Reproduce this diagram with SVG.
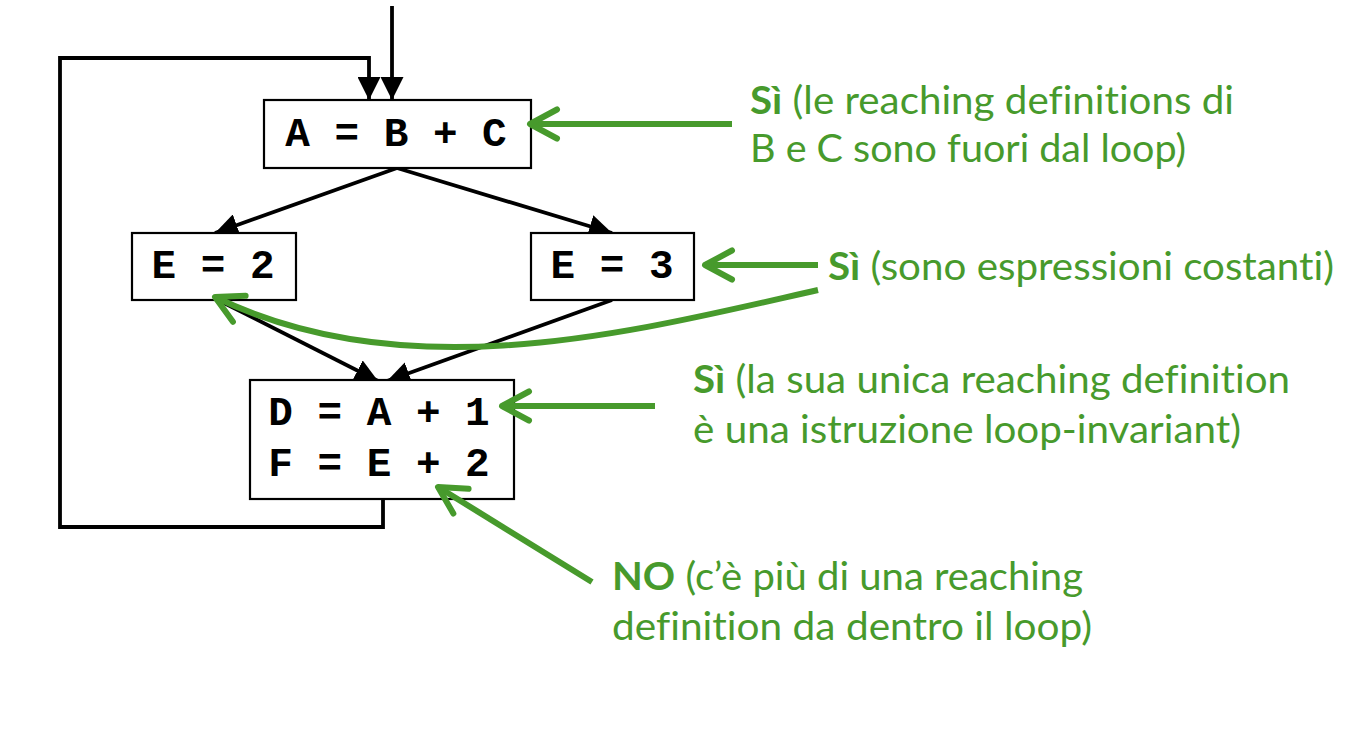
<svg xmlns="http://www.w3.org/2000/svg" width="1354" height="732" viewBox="0 0 1354 732">
<style>
.box{fill:#fff;stroke:#000;stroke-width:2.2}
.code{font-family:"Liberation Mono","Courier New",monospace;font-weight:bold;font-size:41px;fill:#000;text-anchor:middle}
.edge{fill:none;stroke:#000;stroke-width:3.8}
.gline{fill:none;stroke:#479a2c;stroke-width:6}
.note{font-family:Lato,"Open Sans",sans-serif;font-size:39px;fill:#479a2c;font-variant-ligatures:none}
.b{font-weight:bold}
</style>
<defs>
<marker id="ah" markerUnits="userSpaceOnUse" viewBox="0 0 23 23" refX="23" refY="11.5" markerWidth="23" markerHeight="23" orient="auto">
<path d="M0,0 L23,11.5 L0,23 Z" fill="#000"/>
</marker>
<marker id="gh" markerUnits="userSpaceOnUse" viewBox="-32 -20 36 40" refX="0" refY="0" markerWidth="36" markerHeight="40" orient="auto" overflow="visible">
<path d="M-27,-14.5 L0,0 L-27,14.5" fill="none" stroke="#479a2c" stroke-width="6" stroke-linecap="round" stroke-linejoin="round"/>
</marker>
</defs>
<g id="connectors">
<path class="edge" d="M392,6 L392,100" marker-end="url(#ah)"/>
<path class="edge" d="M383,499 L383,527 L60,527 L60,58 L369,58 L369,100" marker-end="url(#ah)"/>
<path class="edge" d="M397,168 L215,233" marker-end="url(#ah)"/>
<path class="edge" d="M397,168 L612,233" marker-end="url(#ah)"/>
<path class="edge" d="M218,300 L378,381" marker-end="url(#ah)"/>
<path class="edge" d="M612,300 L387,381" marker-end="url(#ah)"/>
</g>
<g id="nodeA">
<rect class="box" x="264" y="100" width="267" height="68"/>
<text class="code" x="396" y="146">A = B + C</text>
</g>
<g id="nodeE2">
<rect class="box" x="132" y="233" width="164" height="67"/>
<text class="code" x="213" y="278">E = 2</text>
</g>
<g id="nodeE3">
<rect class="box" x="531" y="233" width="163" height="67"/>
<text class="code" x="612" y="278">E = 3</text>
</g>
<g id="nodeD">
<rect class="box" x="250" y="380" width="264" height="119"/>
<text class="code" x="379" y="425">D = A + 1</text>
<text class="code" x="379" y="476">F = E + 2</text>
</g>
<g id="annotations">
<path class="gline" d="M732,124 L530,124" marker-end="url(#gh)"/>
<path class="gline" d="M818,265 L705,265" marker-end="url(#gh)"/>
<path class="gline" d="M818,290 C640,330 410,392 215,297" marker-end="url(#gh)"/>
<path class="gline" d="M655,406 L502,406" marker-end="url(#gh)"/>
<path class="gline" d="M592,582 L438,487" marker-end="url(#gh)"/>
<text class="note" x="750" y="114" textLength="484" lengthAdjust="spacingAndGlyphs"><tspan class="b">Sì</tspan> (le reaching definitions di</text>
<text class="note" x="750" y="162" textLength="436" lengthAdjust="spacingAndGlyphs">B e C sono fuori dal loop)</text>
<text class="note" x="828" y="280" textLength="506" lengthAdjust="spacingAndGlyphs"><tspan class="b">Sì</tspan> (sono espressioni costanti)</text>
<text class="note" x="693" y="393" textLength="597" lengthAdjust="spacingAndGlyphs"><tspan class="b">Sì</tspan> (la sua unica reaching definition</text>
<text class="note" x="693" y="443" textLength="548" lengthAdjust="spacingAndGlyphs">è una istruzione loop-invariant)</text>
<text class="note" x="612" y="590" textLength="471" lengthAdjust="spacingAndGlyphs"><tspan class="b">NO</tspan> (c’è più di una reaching</text>
<text class="note" x="612" y="640" textLength="480" lengthAdjust="spacingAndGlyphs">definition da dentro il loop)</text>
</g>
</svg>
